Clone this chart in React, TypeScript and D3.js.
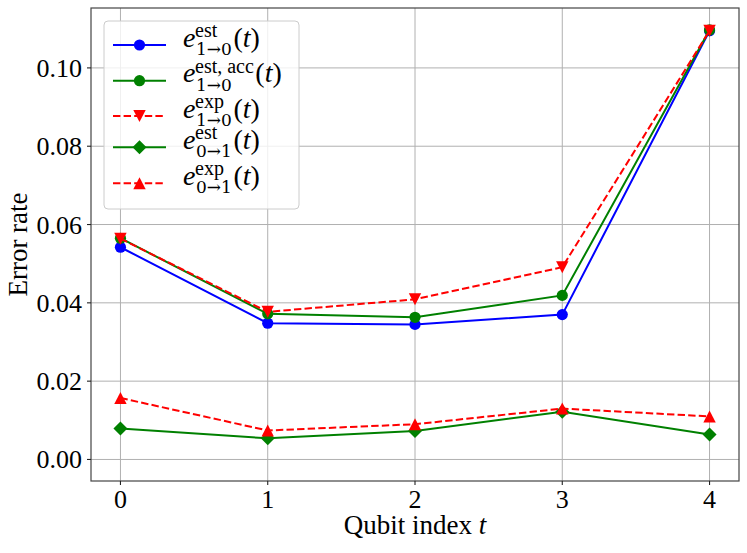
import React, { useEffect, useRef } from "react";
import * as d3 from "d3";

const qubits = [0, 1, 2, 3, 4];
const eEst10 = [0.0542, 0.0348, 0.0345, 0.037, 0.1095];
const eEstAcc10 = [0.0565, 0.0372, 0.0363, 0.0419, 0.1097];
const eExp10 = [0.0564, 0.0377, 0.0409, 0.0491, 0.1095];
const eEst01 = [0.0079, 0.0054, 0.0073, 0.0122, 0.0064];
const eExp01 = [0.0157, 0.0074, 0.009, 0.013, 0.011];

const xTicks = [0, 1, 2, 3, 4];
const yTicks = [0, 0.02, 0.04, 0.06, 0.08, 0.1];
const legendSup = ["est", "est, acc", "exp", "est", "exp"];
const legendSub = ["1→0", "1→0", "1→0", "0→1", "0→1"];
const xLabel = "Qubit index";
const yLabel = "Error rate";

type Marker = "circle" | "down" | "up" | "diamond";
const series: { values: number[]; color: string; dashed: boolean; marker: Marker }[] = [
  { values: eEst10, color: "#0000ff", dashed: false, marker: "circle" },
  { values: eEstAcc10, color: "#008000", dashed: false, marker: "circle" },
  { values: eExp10, color: "#ff0000", dashed: true, marker: "down" },
  { values: eEst01, color: "#008000", dashed: false, marker: "diamond" },
  { values: eExp01, color: "#ff0000", dashed: true, marker: "up" },
];

const W = 747;
const H = 553;
const L = 91, R = 739, T = 8, B = 481;
const FONT = "Liberation Serif, Times New Roman, serif";

function drawMarker(g: any, m: Marker, x: number, y: number, color: string) {
  if (m === "circle") {
    g.append("circle").attr("cx", x).attr("cy", y).attr("r", 5.6).attr("fill", color);
  } else {
    let d = "";
    if (m === "down") d = "M-6.2,-6L6.2,-6L0,6Z";
    if (m === "up") d = "M0,-6L6.2,6L-6.2,6Z";
    if (m === "diamond") d = "M0,-7L7,0L0,7L-7,0Z";
    g.append("path").attr("d", d).attr("transform", `translate(${x},${y})`).attr("fill", color);
  }
}

export default function App() {
  const ref = useRef<SVGSVGElement>(null);
  useEffect(() => {
    const svg = d3.select(ref.current);
    svg.selectAll("*").remove();
    const xs = d3.scaleLinear().domain([-0.2, 4.2]).range([L, R]);
    const ys = d3.scaleLinear().domain([-0.0055, 0.1153]).range([B, T]);

    svg.append("rect").attr("width", W).attr("height", H).attr("fill", "#fff");

    // grid
    const grid = svg.append("g").attr("stroke", "#b0b0b0").attr("stroke-width", 1);
    xTicks.forEach((t) => {
      grid.append("line").attr("x1", xs(t)).attr("x2", xs(t)).attr("y1", T).attr("y2", B);
    });
    yTicks.forEach((t) => {
      grid.append("line").attr("x1", L).attr("x2", R).attr("y1", ys(t)).attr("y2", ys(t));
    });

    // lines
    const line = d3
      .line<number>()
      .x((_, i) => xs(qubits[i]))
      .y((d) => ys(d));
    series.forEach((s) => {
      svg
        .append("path")
        .attr("d", line(s.values) as string)
        .attr("fill", "none")
        .attr("stroke", s.color)
        .attr("stroke-width", 2)
        .attr("stroke-dasharray", s.dashed ? "7.4,3.2" : null);
      const mg = svg.append("g");
      s.values.forEach((v, i) => drawMarker(mg, s.marker, xs(qubits[i]), ys(v), s.color));
    });

    // spines
    svg
      .append("rect")
      .attr("x", L)
      .attr("y", T)
      .attr("width", R - L)
      .attr("height", B - T)
      .attr("fill", "none")
      .attr("stroke", "#444")
      .attr("stroke-width", 1.2);

    // ticks
    const tk = svg.append("g").attr("stroke", "#222").attr("stroke-width", 1.1);
    xTicks.forEach((t) => tk.append("line").attr("x1", xs(t)).attr("x2", xs(t)).attr("y1", B).attr("y2", B + 4));
    yTicks.forEach((t) => tk.append("line").attr("x1", L - 4).attr("x2", L).attr("y1", ys(t)).attr("y2", ys(t)));

    const txt = svg.append("g").attr("font-family", FONT).attr("fill", "#000");
    xTicks.forEach((t) =>
      txt
        .append("text")
        .attr("x", xs(t))
        .attr("y", 508)
        .attr("text-anchor", "middle")
        .attr("font-size", 26)
        .text(d3.format("d")(t))
    );
    yTicks.forEach((t) =>
      txt
        .append("text")
        .attr("x", L - 9)
        .attr("y", ys(t) + 9)
        .attr("text-anchor", "end")
        .attr("font-size", 26)
        .text(d3.format(".2f")(t))
    );
    const xl = txt
      .append("text")
      .attr("x", (L + R) / 2)
      .attr("y", 534)
      .attr("text-anchor", "middle")
      .attr("font-size", 27);
    xl.append("tspan").text(xLabel + " ");
    xl.append("tspan").attr("font-style", "italic").text("t");
    txt
      .append("text")
      .attr("transform", `translate(27,${(T + B) / 2}) rotate(-90)`)
      .attr("text-anchor", "middle")
      .attr("font-size", 27)
      .text(yLabel);

    // legend
    const lg = svg.append("g");
    lg.append("rect")
      .attr("x", 104)
      .attr("y", 21)
      .attr("width", 195)
      .attr("height", 188)
      .attr("rx", 4)
      .attr("fill", "#fff")
      .attr("fill-opacity", 0.8)
      .attr("stroke", "#cccccc")
      .attr("stroke-width", 1);
    const rowsY = [45, 80.7, 116, 147.3, 183.3];
    series.forEach((s, i) => {
      const y = rowsY[i];
      lg.append("line")
        .attr("x1", 113)
        .attr("x2", 166)
        .attr("y1", y)
        .attr("y2", y)
        .attr("stroke", s.color)
        .attr("stroke-width", 2)
        .attr("stroke-dasharray", s.dashed ? "7.4,3.2" : null);
      drawMarker(lg, s.marker, 139.5, y, s.color);
      const base = y + 1.5;
      const tg = lg.append("g").attr("font-family", FONT).attr("fill", "#000");
      tg.append("text").attr("x", 183).attr("y", base).attr("font-size", 28).attr("font-style", "italic").text("e");
      const sup = tg.append("text").attr("x", 195).attr("y", base - 9.5).attr("font-size", 20).text(legendSup[i]);
      const sub = tg
        .append("text")
        .attr("x", 196)
        .attr("y", base + 8.5)
        .attr("font-family", "DejaVu Serif")
        .attr("font-size", 17)
        .text(legendSub[i]);
      const supW = (sup.node() as SVGTextElement).getComputedTextLength();
      const subW = (sub.node() as SVGTextElement).getComputedTextLength();
      const px = Math.max(195 + supW, 196 + subW) + 1.5;
      const pt = tg.append("text").attr("x", px).attr("y", base).attr("font-size", 28);
      pt.append("tspan").text("(");
      pt.append("tspan").attr("font-style", "italic").text("t");
      pt.append("tspan").text(")");
    });
  }, []);
  return (
    <svg
      ref={ref}
      width={W}
      height={H}
      style={{ position: "absolute", left: 0, top: 0 }}
    />
  );
}
